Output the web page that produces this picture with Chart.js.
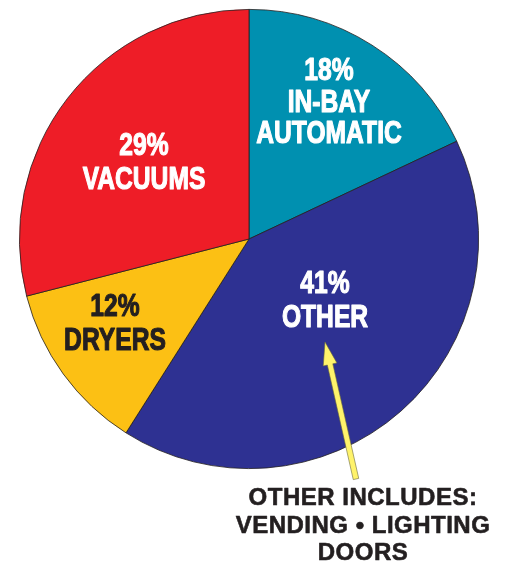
<!DOCTYPE html>
<html>
<head>
<meta charset="utf-8">
<script src="https://cdn.jsdelivr.net/npm/chart.js@4.4.1/dist/chart.umd.min.js"></script>
<style>
  html, body { margin: 0; padding: 0; background: #fff; }
  #wrap { width: 506px; height: 564px; }
</style>
</head>
<body>
<div id="wrap"><canvas id="myChart" width="506" height="564"></canvas></div>
<script>
// share of revenue by source, clockwise from 12 o'clock
var categories = ['IN-BAY AUTOMATIC', 'OTHER', 'DRYERS', 'VACUUMS']
var shares = [18, 41, 12, 29]
var slice_colors = ['#0090B0', '#2E3192', '#FCC014', '#EE1D27']
var note_lines = ['OTHER INCLUDES:', 'VENDING \u2022 LIGHTING', 'DOORS']

// label blocks: offset from pie centre, text colour, and the name split on lines
var label_spots = [
    {dx: 80, dy: -139, color: '#ffffff', name: ['IN-BAY', 'AUTOMATIC']},
    {dx: 76, dy: 59, color: '#ffffff', name: ['OTHER']},
    {dx: -134, dy: 82, color: '#231F20', name: ['DRYERS']},
    {dx: -105, dy: -79, color: '#ffffff', name: ['VACUUMS']}
]

// condensed look: squeeze the bold face and thicken it a little
function squeezedText(ctx, text, x, y, sx){
    ctx.save()
    ctx.translate(x, y)
    ctx.scale(sx, 1)
    ctx.strokeText(text, 0, 0)
    ctx.fillText(text, 0, 0)
    ctx.restore()
}

var pieLabels = {
    id: 'pieLabels',
    afterDatasetsDraw: function(chart){
        var ctx = chart.ctx
        var arc = chart.getDatasetMeta(0).data[0]
        var cx = arc.x, cy = arc.y
        ctx.save()
        ctx.textAlign = 'center'
        ctx.textBaseline = 'alphabetic'
        ctx.lineJoin = 'round'
        ctx.lineWidth = 1.2
        ctx.font = 'bold 32px "Liberation Sans", Arial, sans-serif'
        for (var i = 0; i < shares.length; i++){
            var s = label_spots[i]
            var lines = [shares[i] + '%'].concat(s.name)
            var step = i == 0 ? 31.5 : 34
            var top = cy + s.dy - (lines.length - 1) * step / 2
            ctx.fillStyle = s.color
            ctx.strokeStyle = s.color
            for (var j = 0; j < lines.length; j++){
                squeezedText(ctx, lines[j], cx + s.dx, top + j * step + 11.5, 0.77)
            }
        }

        // arrow from the note up into the OTHER slice
        var tail = {x: cx + 107, y: cy + 240}
        var tip = {x: cx + 76, y: cy + 103}
        var vx = tip.x - tail.x, vy = tip.y - tail.y
        var len = Math.sqrt(vx * vx + vy * vy)
        var ux = vx / len, uy = vy / len
        var nx = -uy, ny = ux
        var hl = 23, hw = 7, sw = 2.8
        var bx = tip.x - ux * hl, by = tip.y - uy * hl
        ctx.beginPath()
        ctx.moveTo(tail.x + nx * sw, tail.y + ny * sw)
        ctx.lineTo(bx + nx * sw, by + ny * sw)
        ctx.lineTo(bx + nx * hw, by + ny * hw)
        ctx.lineTo(tip.x, tip.y)
        ctx.lineTo(bx - nx * hw, by - ny * hw)
        ctx.lineTo(bx - nx * sw, by - ny * sw)
        ctx.lineTo(tail.x - nx * sw, tail.y - ny * sw)
        ctx.closePath()
        ctx.fillStyle = '#FFF36B'
        ctx.fill()
        ctx.lineWidth = 0.6
        ctx.strokeStyle = '#6b6a3a'
        ctx.stroke()

        // the note under the pie
        ctx.fillStyle = '#231F20'
        ctx.strokeStyle = '#231F20'
        ctx.lineWidth = 0.6
        ctx.font = 'bold 24px "Liberation Sans", Arial, sans-serif'
        ctx.letterSpacing = '0.5px'
        for (var k = 0; k < note_lines.length; k++){
            ctx.strokeText(note_lines[k], 363, 505 + k * 27.5)
            ctx.fillText(note_lines[k], 363, 505 + k * 27.5)
        }
        ctx.restore()
    }
}

var ctx = document.getElementById('myChart').getContext('2d')
var myChart = new Chart(ctx, {
    type: 'pie',
    data: {
        labels: categories,
        datasets: [{
            data: shares,
            backgroundColor: slice_colors,
            borderColor: '#231F20',
            borderWidth: 0.8
        }]
    },
    options: {
        responsive: false,
        animation: false,
        layout: {
            padding: {left: 19, right: 27, top: 9, bottom: 95}
        },
        plugins: {
            legend: {display: false},
            tooltip: {enabled: false}
        }
    },
    plugins: [pieLabels]
})
</script>
</body>
</html>
